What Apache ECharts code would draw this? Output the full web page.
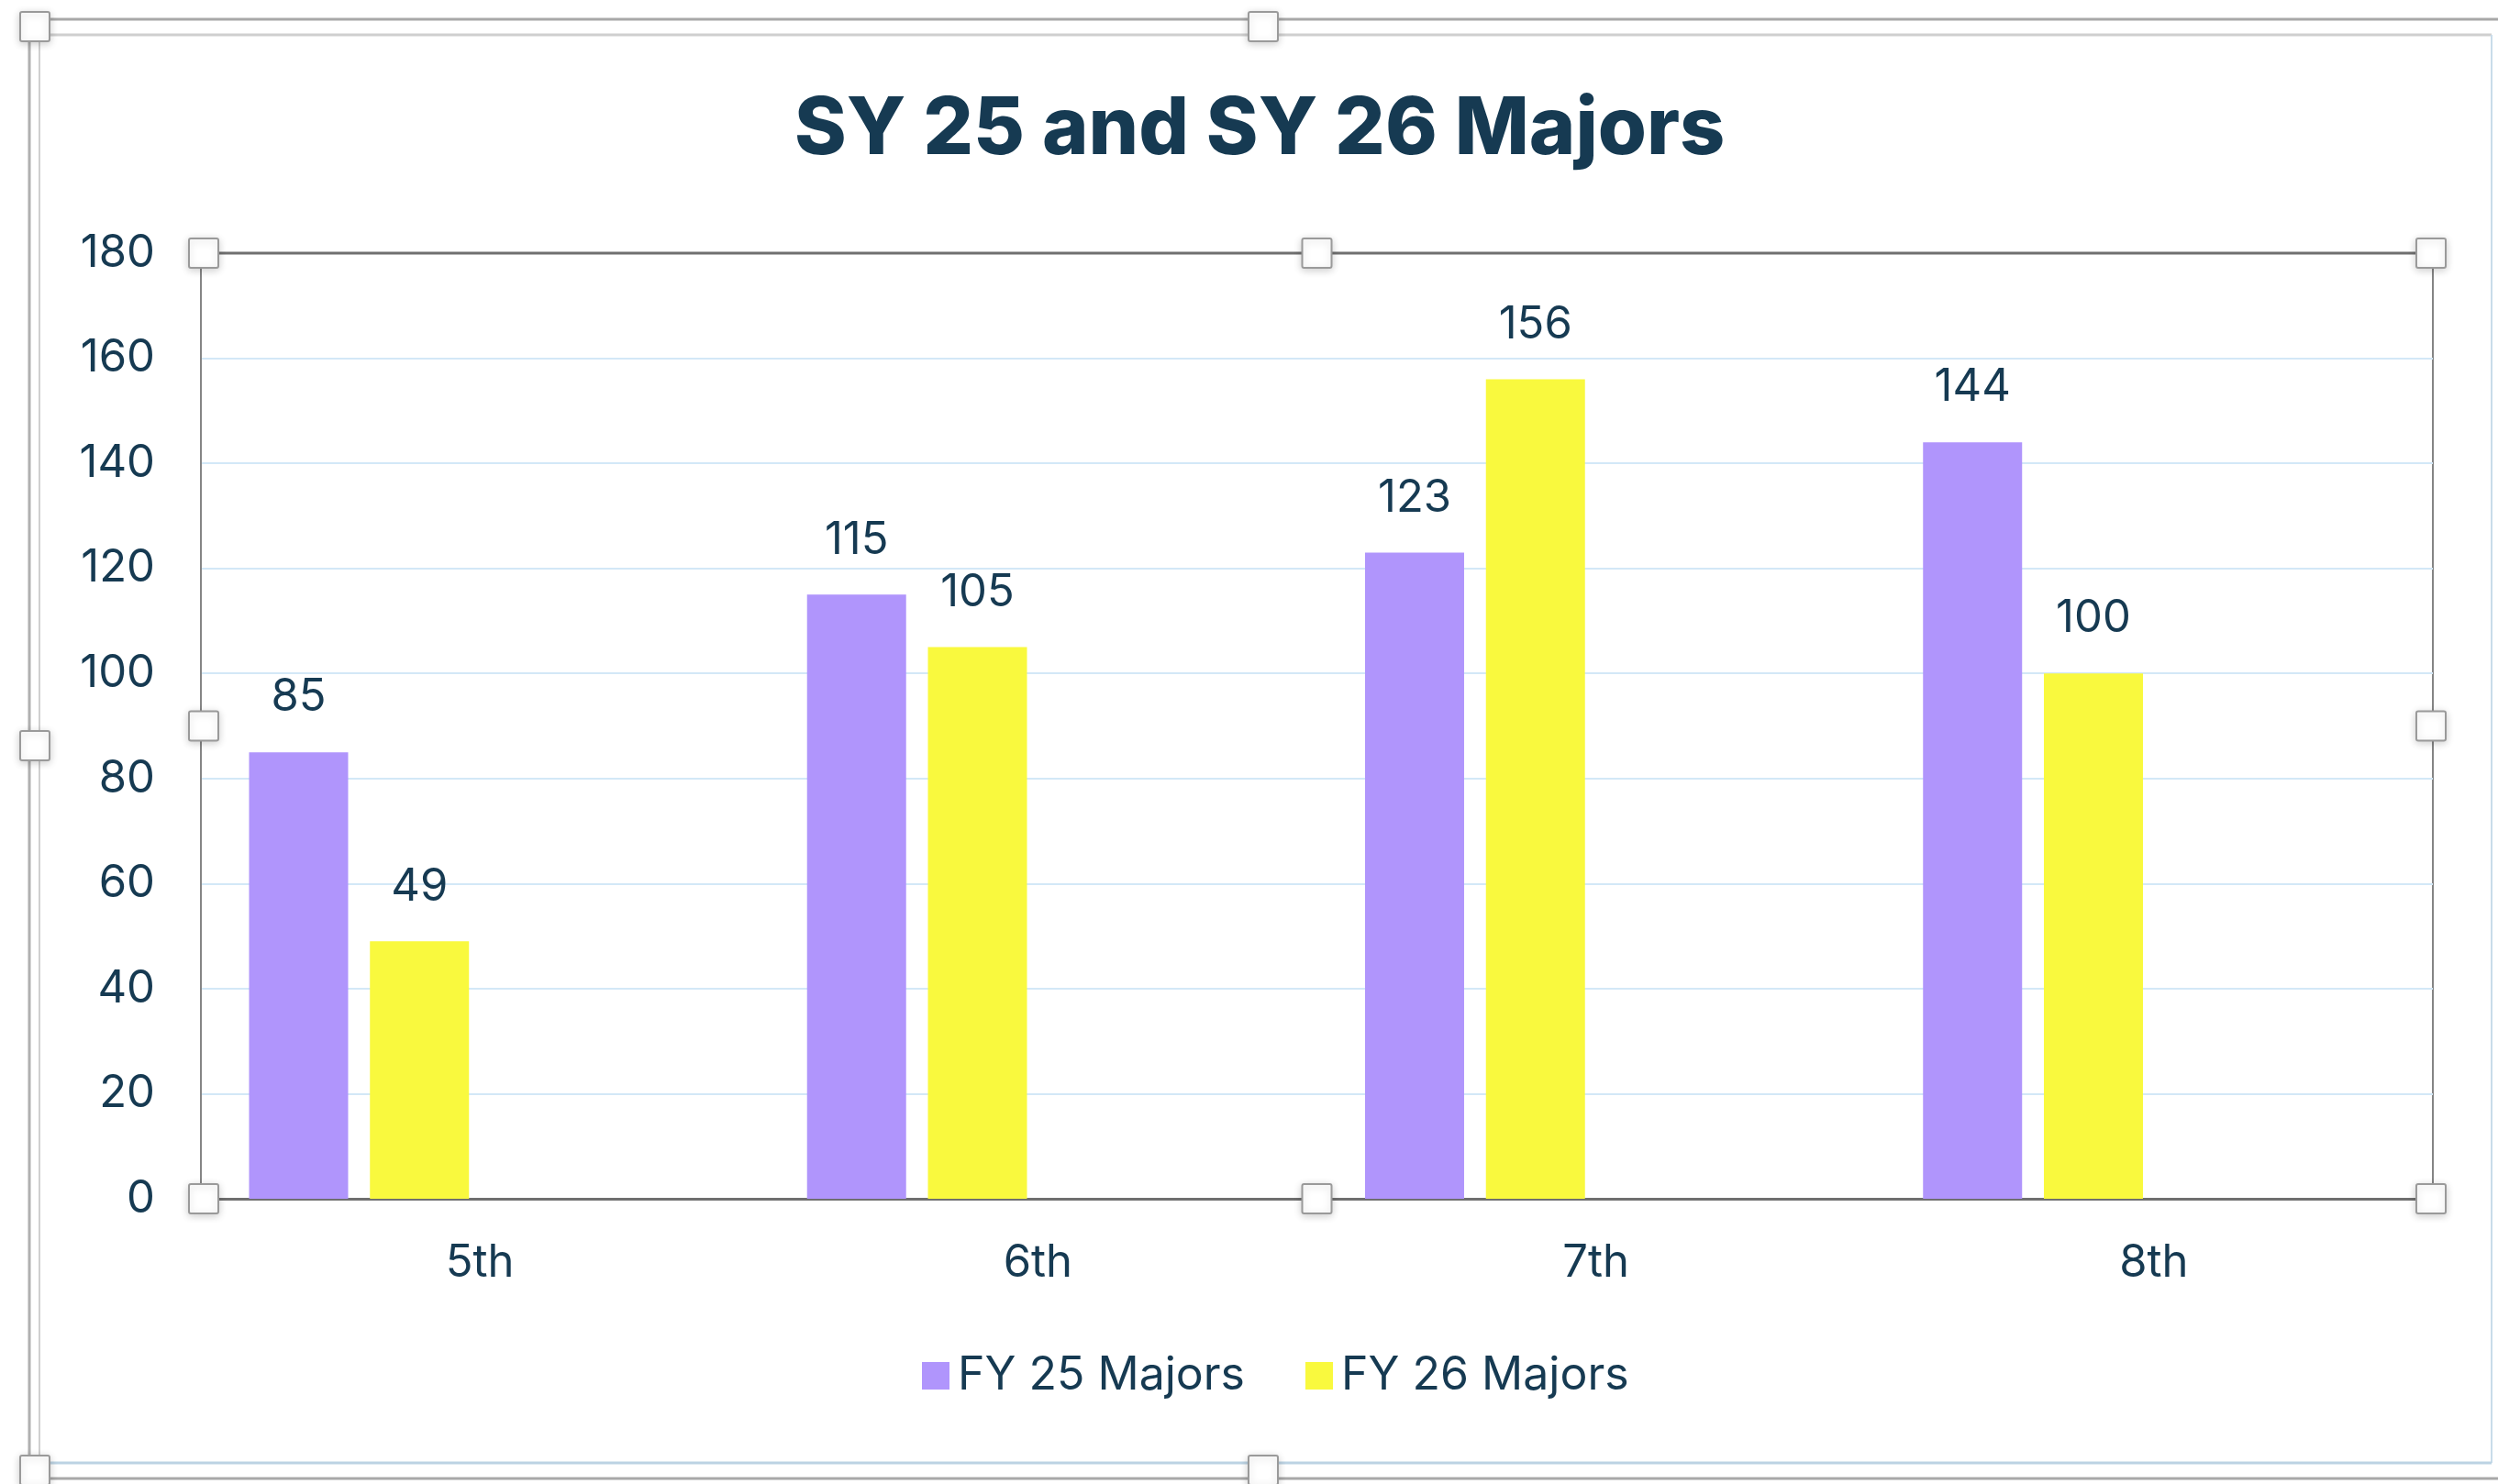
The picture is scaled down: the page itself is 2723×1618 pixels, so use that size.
<!DOCTYPE html>
<html>
<head>
<meta charset="utf-8">
<script src="https://cdn.jsdelivr.net/npm/echarts@6/dist/echarts.min.js"></script>
<style>
html,body{margin:0;padding:0;background:#fff;}
#c{width:2723px;height:1618px;}
</style>
</head>
<body>
<div id="c"></div>
<script>
// ---- data ----
const categories = ['5th', '6th', '7th', '8th'];
const seriesNames = ['FY 25 Majors', 'FY 26 Majors'];
const fy25 = [85, 115, 123, 144];
const fy26 = [49, 105, 156, 100];
const emptySeries = [null, null, null, null]; // two blank series in the source chart
const yTicks = [0, 20, 40, 60, 80, 100, 120, 140, 160, 180];

// ---- style / layout ----
const TEXT = '#163a52';
const FONT = 'Inter';
const G = {left: 219, right: 71, top: 276, bottom: 311};
const W = 2723, H = 1618;

const chart = echarts.init(document.getElementById('c'), null, {renderer: 'canvas'});

function handle(x, y) {
  return {
    type: 'rect', silent: true, z: 100,
    shape: {x: x - 16, y: y - 16, width: 32, height: 32, r: 2},
    style: {fill: '#fff', stroke: '#9a9a9a', lineWidth: 2, shadowBlur: 8, shadowColor: 'rgba(0,0,0,0.18)', shadowOffsetY: 2}
  };
}
function hline(x1, x2, y, color, w) {
  return {type: 'line', silent: true, z: 50, shape: {x1: x1, y1: y, x2: x2, y2: y}, style: {stroke: color, lineWidth: w}};
}
function vline(x, y1, y2, color, w) {
  return {type: 'line', silent: true, z: 50, shape: {x1: x, y1: y1, x2: x, y2: y2}, style: {stroke: color, lineWidth: w}};
}

const pl = G.left, pr = W - G.right, pt = G.top, pb = H - G.bottom;
const pmx = (pl + pr) / 2, pmy = (pt + pb) / 2;

const graphics = [
  // outer frame (selection box)
  hline(32, W, 21, '#a8a8a8', 3),
  hline(43, 2716, 38, '#cfcfcf', 3),
  vline(32, 21, H, '#b0b0b0', 3),
  vline(43, 38, 1595, '#d0d0d0', 2),
  vline(2716, 38, 1595, '#c9dcea', 2),
  hline(43, 2716, 1595, '#bcd3e3', 3),
  hline(32, W, 1612, '#a8a8a8', 3),
  // plot area top border (drawn above the grid lines)
  hline(pl, pr, pt, '#6f6f6f', 3),
  handle(38, 29), handle(1377, 29), handle(38, 813), handle(38, 1603), handle(1377, 1603),
  // plot area handles
  handle(pl + 3, pt), handle(pmx, pt), handle(pr - 2, pt),
  handle(pl + 3, pmy), handle(pr - 2, pmy),
  handle(pl + 3, pb), handle(pmx, pb), handle(pr - 2, pb)
];

const labelStyle = {show: true, position: 'top', distance: 35, color: TEXT, fontFamily: FONT, fontSize: 49};

const option = {
  backgroundColor: '#ffffff',
  animation: false,
  title: {
    text: 'SY 25 and SY 26 Majors',
    left: 866, top: 99,
    padding: 0,
    textStyle: {color: TEXT, fontFamily: FONT, fontWeight: 800, fontSize: 86}
  },
  legend: {
    data: seriesNames,
    bottom: 88,
    left: 1000,
    itemWidth: 30, itemHeight: 30, itemGap: 66,
    icon: 'rect',
    textStyle: {color: TEXT, fontFamily: FONT, fontSize: 50, padding: [0, 0, 0, 4]}
  },
  grid: {
    left: G.left, right: G.right, top: G.top, bottom: G.bottom,
    show: true, borderColor: '#858585', borderWidth: 2, containLabel: false
  },
  xAxis: {
    type: 'category',
    data: categories,
    axisTick: {show: false},
    axisLine: {show: true, lineStyle: {color: '#6f6f6f', width: 3}},
    axisLabel: {color: TEXT, fontFamily: FONT, fontSize: 49, margin: 46}
  },
  yAxis: {
    type: 'value',
    min: yTicks[0], max: yTicks[yTicks.length - 1], interval: yTicks[1] - yTicks[0],
    axisLine: {show: true, lineStyle: {color: '#858585', width: 2}},
    axisTick: {show: false},
    splitLine: {show: true, showMaxLine: false, lineStyle: {color: '#d3e8f7', width: 2}},
    axisLabel: {color: TEXT, fontFamily: FONT, fontSize: 49, margin: 50}
  },
  series: [
    {name: seriesNames[0], type: 'bar', data: fy25, barWidth: 108, barGap: '22%',
     itemStyle: {color: '#b095fc'}, label: labelStyle},
    {name: seriesNames[1], type: 'bar', data: fy26, barWidth: 108, barGap: '22%',
     itemStyle: {color: '#f9f93e'}, label: labelStyle},
    {name: 'blank1', type: 'bar', data: emptySeries, barWidth: 108, barGap: '22%'},
    {name: 'blank2', type: 'bar', data: emptySeries, barWidth: 108, barGap: '22%'}
  ],
  graphic: graphics
};

chart.setOption(option);
</script>
</body>
</html>
